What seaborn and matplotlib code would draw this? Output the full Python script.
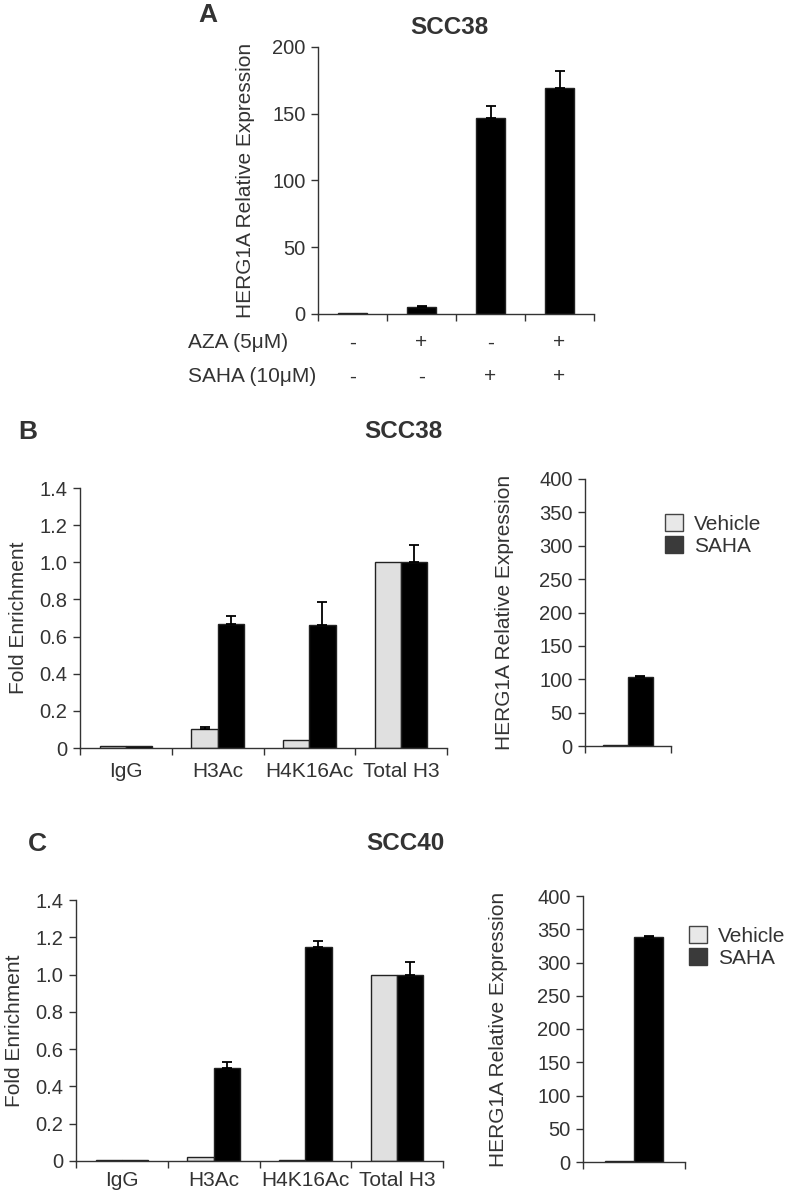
import numpy as np
import pandas as pd
import matplotlib.pyplot as plt
import matplotlib.transforms as mtransforms
from matplotlib.patches import Patch
import seaborn as sns

sns.set_style('white')
plt.rcParams['font.family'] = ['Liberation Sans', 'DejaVu Sans']
plt.rcParams['text.color'] = '#333333'
plt.rcParams['axes.labelcolor'] = '#333333'
plt.rcParams['xtick.color'] = '#333333'
plt.rcParams['ytick.color'] = '#333333'

# Panel A: SCC38 HERG1A expression after AZA / SAHA
a_groups = ['1', '2', '3', '4']
a_values = [1.0, 5.5, 147, 169]
a_errors = [0.0, 0.6, 9, 13]
a_aza = ['-', '+', '-', '+']
a_saha = ['-', '-', '+', '+']

# Panel B/C: ChIP fold enrichment
chip_marks = ['IgG', 'H3Ac', 'H4K16Ac', 'Total H3']
treatments = ['Vehicle', 'SAHA']
b_vehicle = [0.01, 0.105, 0.045, 1.0]
b_vehicle_err = [0.0, 0.01, 0.0, 0.0]
b_saha = [0.01, 0.67, 0.66, 1.0]
b_saha_err = [0.0, 0.04, 0.125, 0.095]
b_expr = [1.0, 103]
b_expr_err = [0.0, 2]

c_vehicle = [0.003, 0.02, 0.008, 1.0]
c_vehicle_err = [0.0, 0.0, 0.0, 0.0]
c_saha = [0.003, 0.50, 1.15, 1.0]
c_saha_err = [0.0, 0.03, 0.03, 0.065]
c_expr = [1.0, 338]
c_expr_err = [0.0, 2]

palette = {'Vehicle': '#e0e0e0', 'SAHA': '#000000'}
W, H = 787, 1193
TICK_FS = 14.5
LABEL_FS = 15
TITLE_FS = 17.5
LETTER_FS = 19


def add_axes(fig, left, top, right, bottom):
    return fig.add_axes([left / W, 1 - bottom / H, (right - left) / W, (bottom - top) / H])


def style_axes(ax, ncat, yticks, ylim, yfmt):
    sns.despine(ax=ax)
    for s in ['left', 'bottom']:
        ax.spines[s].set_color('#333333')
        ax.spines[s].set_linewidth(1.0)
    ax.set_ylim(*ylim)
    ax.set_yticks(yticks)
    ax.set_yticklabels([yfmt(v) for v in yticks], fontsize=TICK_FS)
    ax.set_xlim(-0.5, ncat - 0.5)
    ax.set_xticks(np.arange(ncat + 1) - 0.5)
    ax.set_xticklabels([])
    ax.tick_params(axis='both', which='major', direction='out', length=5, width=1,
                   left=True, bottom=True, pad=4)
    ax.set_xlabel('')


def add_errors(ax, errors):
    # error bars drawn only upward, on top of each bar seaborn placed
    bars = sorted(ax.patches, key=lambda p: p.get_x())
    for p, e in zip(bars, errors):
        if e <= 0:
            continue
        x = p.get_x() + p.get_width() / 2
        y = p.get_height()
        ax.errorbar(x, y, yerr=[[0], [e]], fmt='none', ecolor='black',
                    elinewidth=1.3, capsize=3.5, capthick=1.3)


def fmt_dec(v):
    return '0' if v == 0 else f'{v:.1f}'


def fmt_int(v):
    return f'{int(v)}'


fig = plt.figure(figsize=(W / 100, H / 100), dpi=100)

# ---- Panel A ----
ax = add_axes(fig, 318, 47, 594, 314)
df_a = pd.DataFrame({'group': a_groups, 'value': a_values})
sns.barplot(data=df_a, x='group', y='value', color='black', edgecolor='#222222',
            width=0.42, errorbar=None, ax=ax)
style_axes(ax, 4, [0, 50, 100, 150, 200], (0, 200), fmt_int)
add_errors(ax, a_errors)
ax.set_ylabel('HERG1A Relative Expression', fontsize=LABEL_FS, labelpad=12)
trans = mtransforms.blended_transform_factory(ax.transData, fig.transFigure)
for i, (za, sh) in enumerate(zip(a_aza, a_saha)):
    ax.text(i, 1 - 343 / H, za, transform=trans, ha='center', va='center', fontsize=LABEL_FS)
    ax.text(i, 1 - 377 / H, sh, transform=trans, ha='center', va='center', fontsize=LABEL_FS)
fig.text(188 / W, 1 - 343 / H, 'AZA (5\u03bcM)', ha='left', va='center', fontsize=LABEL_FS)
fig.text(188 / W, 1 - 377 / H, 'SAHA (10\u03bcM)', ha='left', va='center', fontsize=LABEL_FS)
fig.text(449 / W, 1 - 28 / H, 'SCC38', ha='center', va='center', fontsize=TITLE_FS, fontweight='bold')
fig.text(208 / W, 1 - 15 / H, 'A', ha='center', va='center', fontsize=LETTER_FS, fontweight='bold')


def chip_panel(ax, vehicle, saha, verr, serr, pad):
    df = pd.DataFrame({'mark': chip_marks * 2,
                       'treatment': ['Vehicle'] * 4 + ['SAHA'] * 4,
                       'value': vehicle + saha})
    sns.barplot(data=df, x='mark', y='value', hue='treatment', hue_order=treatments,
                palette=palette, edgecolor='#222222', linewidth=1, width=0.57,
                errorbar=None, legend=False, ax=ax)
    style_axes(ax, 4, [0, 0.2, 0.4, 0.6, 0.8, 1.0, 1.2, 1.4], (0, 1.4), fmt_dec)
    errs = []
    for i in range(4):
        errs += [verr[i], serr[i]]
    add_errors(ax, errs)
    ax.set_xticks(np.arange(4), minor=True)
    ax.set_xticklabels(chip_marks, minor=True, fontsize=LABEL_FS)
    ax.tick_params(axis='x', which='minor', length=0, pad=pad)
    ax.set_ylabel('Fold Enrichment', fontsize=LABEL_FS, labelpad=8)


def expr_panel(ax, values, errors, legend_xy, labelpad):
    df = pd.DataFrame({'cell': ['x', 'x'], 'treatment': treatments, 'value': values})
    sns.barplot(data=df, x='cell', y='value', hue='treatment', hue_order=treatments,
                palette=palette, edgecolor='#222222', linewidth=1, width=0.57,
                errorbar=None, legend=False, ax=ax)
    style_axes(ax, 1, list(range(0, 401, 50)), (0, 400), fmt_int)
    add_errors(ax, errors)
    ax.set_ylabel('HERG1A Relative Expression', fontsize=LABEL_FS, labelpad=labelpad)
    handles = [Patch(facecolor='#e8e8e8', edgecolor='#444444', label='Vehicle'),
               Patch(facecolor='#3a3a3a', edgecolor='#3a3a3a', label='SAHA')]
    fig.legend(handles=handles, loc='center left',
               bbox_to_anchor=(legend_xy[0] / W, 1 - legend_xy[1] / H),
               frameon=False, fontsize=LABEL_FS, handlelength=0.85, handleheight=0.85,
               handletextpad=0.55, labelspacing=0.1, borderaxespad=0, borderpad=0)


# ---- Panel B ----
ax = add_axes(fig, 80, 488, 447, 748)
chip_panel(ax, b_vehicle, b_saha, b_vehicle_err, b_saha_err, pad=10)
ax2 = add_axes(fig, 585, 479, 671, 746)
expr_panel(ax2, b_expr, b_expr_err, (665, 535), labelpad=18)
fig.text(403 / W, 1 - 432 / H, 'SCC38', ha='center', va='center', fontsize=TITLE_FS, fontweight='bold')
fig.text(28 / W, 1 - 432 / H, 'B', ha='center', va='center', fontsize=LETTER_FS, fontweight='bold')

# ---- Panel C ----
ax = add_axes(fig, 76, 900, 443, 1161)
chip_panel(ax, c_vehicle, c_saha, c_vehicle_err, c_saha_err, pad=7)
ax2 = add_axes(fig, 583, 896, 685, 1162)
expr_panel(ax2, c_expr, c_expr_err, (689, 947), labelpad=21)
fig.text(405 / W, 1 - 844 / H, 'SCC40', ha='center', va='center', fontsize=TITLE_FS, fontweight='bold')
fig.text(37 / W, 1 - 844 / H, 'C', ha='center', va='center', fontsize=LETTER_FS, fontweight='bold')

fig.savefig('out.png', dpi=100)
